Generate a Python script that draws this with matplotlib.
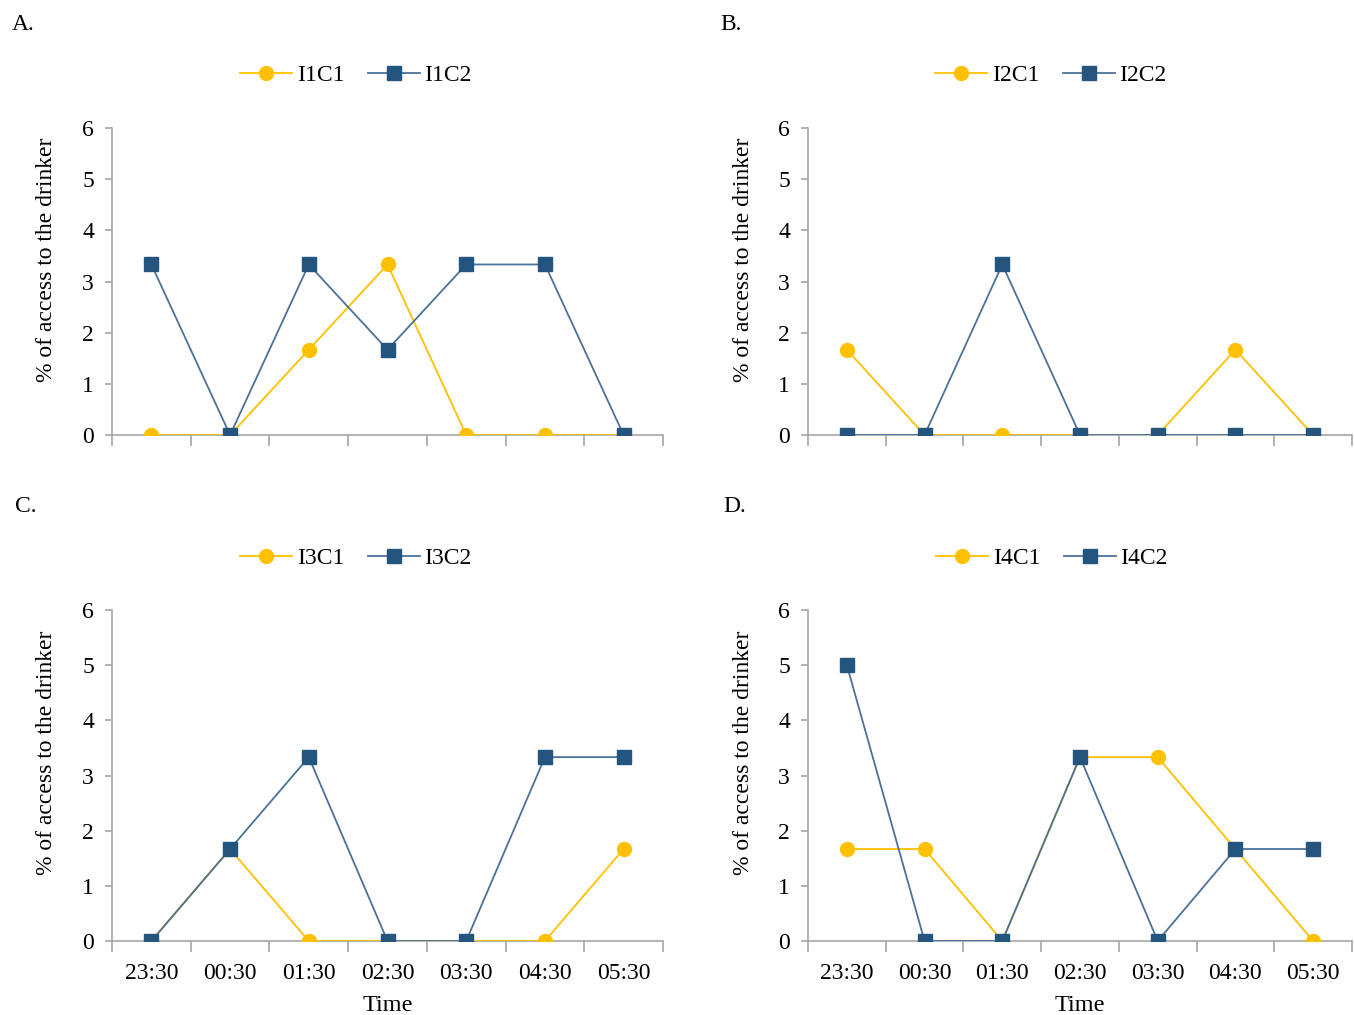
import matplotlib
matplotlib.use("Agg")
import matplotlib.pyplot as plt

plt.rcParams['font.family'] = ['Liberation Serif', 'DejaVu Serif']

times = ["23:30", "00:30", "01:30", "02:30", "03:30", "04:30", "05:30"]

# panel A
i1c1 = [0, 0, 1.667, 3.333, 0, 0, 0]
i1c2 = [3.333, 0, 3.333, 1.667, 3.333, 3.333, 0]
# panel B
i2c1 = [1.667, 0, 0, 0, 0, 1.667, 0]
i2c2 = [0, 0, 3.333, 0, 0, 0, 0]
# panel C
i3c1 = [0, 1.667, 0, 0, 0, 0, 1.667]
i3c2 = [0, 1.667, 3.333, 0, 0, 3.333, 3.333]
# panel D
i4c1 = [1.667, 1.667, 0, 3.333, 3.333, 1.667, 0]
i4c2 = [5, 0, 0, 3.333, 0, 1.667, 1.667]

W, H = 1354, 1015
YELLOW = "#FFC000"
BLUE_LINE = "#4C7199"
BLUE_MARK = "#24557F"
AXIS_GREY = "#A6A6A6"

fig = plt.figure(figsize=(W / 100, H / 100), dpi=100)


def px_axes(left, top, right, bottom):
    return fig.add_axes([left / W, 1 - bottom / H, (right - left) / W, (bottom - top) / H])


panels = [
    ("A.", (12, 25), (112, 128, 663, 435), (356, 75), "I1C1", i1c1, "I1C2", i1c2, False),
    ("B.", (720, 25), (808, 128, 1352, 435), (1051, 75), "I2C1", i2c1, "I2C2", i2c2, False),
    ("C.", (15, 507), (112, 610, 663, 941), (356, 558), "I3C1", i3c1, "I3C2", i3c2, True),
    ("D.", (723, 507), (808, 610, 1352, 941), (1052, 558), "I4C1", i4c1, "I4C2", i4c2, True),
]

x = list(range(len(times)))

for tag, tagpos, box, legpos, n1, s1, n2, s2, bottom in panels:
    ax = px_axes(*box)
    h1, = ax.plot(x, s1, color=YELLOW, lw=1.3, marker="o", ms=10,
                  mfc=YELLOW, mec=YELLOW, label=n1, zorder=3)
    h2, = ax.plot(x, s2, color=BLUE_LINE, lw=1.3, marker="s", ms=10,
                  mfc=BLUE_MARK, mec=BLUE_MARK, label=n2, zorder=4)
    ax.set_xlim(-0.5, 6.5)
    ax.set_ylim(0, 6)
    ax.set_yticks(range(7))
    ax.set_xticks(x)
    ax.set_xticks([i - 0.5 for i in range(8)], minor=True)
    ax.tick_params(axis="x", which="major", length=0, labelsize=17, pad=16)
    ax.tick_params(axis="x", which="minor", length=8, color=AXIS_GREY, width=1.2)
    ax.tick_params(axis="y", length=5, color=AXIS_GREY, width=1.2, labelsize=17, pad=8)
    if bottom:
        ax.set_xticklabels(times)
        ax.set_xlabel("Time", fontsize=17.5, labelpad=8)
    else:
        ax.set_xticklabels([])
    for side in ("top", "right"):
        ax.spines[side].set_visible(False)
    for side in ("left", "bottom"):
        ax.spines[side].set_color(AXIS_GREY)
        ax.spines[side].set_linewidth(1.2)
    ax.spines["bottom"].set_zorder(2)
    ax.set_ylabel("% of access to the drinker", fontsize=17)
    ax.yaxis.set_label_coords(-0.10, 0.57)
    fig.text(tagpos[0] / W, 1 - tagpos[1] / H, tag, fontsize=17, va="center", ha="left")
    fig.legend(handles=[h1, h2], loc="center", bbox_to_anchor=(legpos[0] / W, 1 - legpos[1] / H),
               ncol=2, frameon=False, fontsize=17, handlelength=2.2, columnspacing=1.0,
               handletextpad=0.2)

fig.savefig("out.png", dpi=100)
